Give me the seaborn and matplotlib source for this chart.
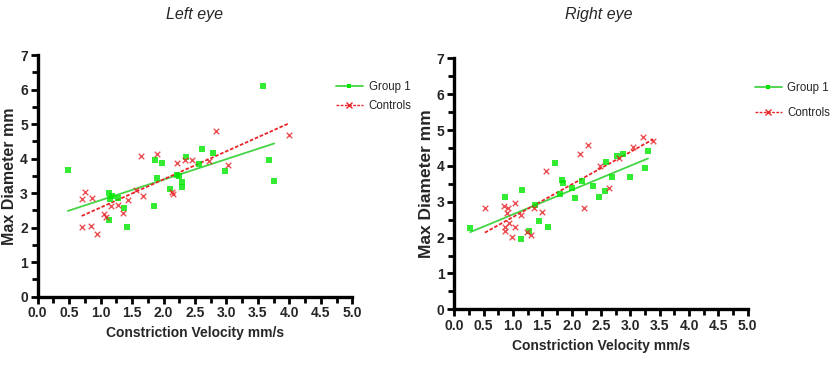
import matplotlib
matplotlib.use("Agg")
import matplotlib.pyplot as plt
from matplotlib.lines import Line2D
from matplotlib.ticker import MultipleLocator
import seaborn as sns
import pandas as pd

# ---------------- data ----------------
left_g1_x = [0.48, 3.58, 1.14, 1.18, 1.15, 1.27, 1.38, 1.14, 1.42, 1.85, 1.87, 1.89, 1.97,
             2.11, 2.21, 2.25, 2.29, 2.29, 2.35, 2.56, 2.61, 2.79, 2.97, 3.68, 3.76]
left_g1_y = [3.68, 6.10, 3.01, 2.92, 2.82, 2.86, 2.58, 2.21, 2.03, 2.62, 3.96, 3.44, 3.88,
             3.12, 3.53, 3.49, 3.33, 3.18, 4.06, 3.84, 4.27, 4.16, 3.63, 3.96, 3.36]
left_ct_x = [0.70, 0.71, 0.76, 0.84, 0.86, 0.94, 1.05, 1.08, 1.16, 1.27, 1.36, 1.43, 1.56,
             1.64, 1.68, 1.90, 2.13, 2.15, 2.22, 2.34, 2.46, 2.72, 2.83, 3.03, 3.99]
left_ct_y = [2.03, 2.84, 3.02, 2.05, 2.85, 1.81, 2.40, 2.32, 2.64, 2.66, 2.43, 2.81, 3.08,
             4.08, 2.93, 4.13, 3.03, 2.98, 3.86, 3.96, 3.95, 3.92, 4.79, 3.82, 4.69]

right_g1_x = [0.27, 0.87, 1.16, 1.13, 1.27, 1.37, 1.45, 1.60, 1.71, 1.80, 1.83, 1.85, 2.00,
              2.06, 2.18, 2.36, 2.47, 2.57, 2.59, 2.69, 2.78, 2.87, 2.99, 3.25, 3.30]
right_g1_y = [2.26, 3.14, 3.34, 1.97, 2.18, 2.91, 2.46, 2.30, 4.09, 3.22, 3.60, 3.53, 3.38,
              3.10, 3.58, 3.45, 3.12, 3.30, 4.10, 3.70, 4.28, 4.34, 3.69, 3.95, 4.41]
right_ct_x = [0.52, 0.85, 0.91, 0.89, 1.04, 0.94, 0.87, 0.86, 1.03, 0.98, 1.14, 1.23, 1.30,
              1.35, 1.50, 1.56, 2.14, 2.21, 2.28, 2.48, 2.64, 2.80, 3.05, 3.21, 3.39]
right_ct_y = [2.83, 2.89, 2.82, 2.69, 2.96, 2.42, 2.30, 2.18, 2.30, 2.01, 2.62, 2.15, 2.08,
              2.83, 2.70, 3.87, 4.33, 2.82, 4.59, 4.00, 3.39, 4.21, 4.54, 4.80, 4.70]

panel_titles = ["Left eye", "Right eye"]
series_names = ["Group 1", "Controls"]
x_ticks = [0.0, 0.5, 1.0, 1.5, 2.0, 2.5, 3.0, 3.5, 4.0, 4.5, 5.0]
y_ticks = [0, 1, 2, 3, 4, 5, 6, 7]
xlabel = "Constriction Velocity mm/s"
ylabel = "Max Diameter mm"

# ---------------- style ----------------
sns.set_theme(style="white")
plt.rcParams["font.family"] = ["Liberation Sans", "DejaVu Sans"]

GREEN_PT = "#00e600"
GREEN_LN = "#44d444"
RED = "#e8262a"

fig = plt.figure(figsize=(8.35, 3.65), dpi=100)
ax_l = fig.add_axes([0.0451, 0.1871, 0.3768, 0.6622])
ax_r = fig.add_axes([0.5441, 0.1526, 0.3514, 0.6877])

panels = [
    (ax_l, left_g1_x, left_g1_y, left_ct_x, left_ct_y, 11.5),
    (ax_r, right_g1_x, right_g1_y, right_ct_x, right_ct_y, 12.5),
]

for ax, gx, gy, cx, cy, ylab_fs in panels:
    dg = pd.DataFrame({"x": gx, "y": gy})
    dc = pd.DataFrame({"x": cx, "y": cy})
    sns.regplot(data=dg, x="x", y="y", ax=ax, ci=None, marker="s", truncate=True,
                scatter_kws=dict(color=GREEN_PT, s=14, linewidths=0, zorder=3),
                line_kws=dict(color=GREEN_LN, lw=1.3, zorder=2))
    sns.regplot(data=dc, x="x", y="y", ax=ax, ci=None, marker="x", truncate=True,
                scatter_kws=dict(color=RED, s=16, linewidths=1.0, zorder=3),
                line_kws=dict(color=RED, lw=1.3, ls=(0, (2, 1)), zorder=2))
    ax.set_xlim(0, 5)
    ax.set_ylim(0, 7)
    ax.set_xticks(x_ticks)
    ax.set_xticklabels([f"{t:.1f}" for t in x_ticks])
    ax.set_yticks(y_ticks)
    ax.set_yticklabels([str(t) for t in y_ticks])
    ax.xaxis.set_minor_locator(MultipleLocator(0.25))
    ax.yaxis.set_minor_locator(MultipleLocator(0.5))
    for s in ["top", "right"]:
        ax.spines[s].set_visible(False)
    for s in ["left", "bottom"]:
        ax.spines[s].set_linewidth(2.4)
        ax.spines[s].set_color("black")
    ax.tick_params(which="major", direction="out", length=5, width=2.0, color="black",
                   labelsize=10, pad=2, bottom=True, left=True)
    ax.tick_params(which="minor", direction="out", length=4, width=2.0, color="black",
                   bottom=True, left=True)
    for lab in ax.get_xticklabels() + ax.get_yticklabels():
        lab.set_fontweight("bold")
    ax.set_xlabel(xlabel, fontsize=10, fontweight="bold", labelpad=4)
    ax.set_ylabel(ylabel, fontsize=ylab_fs, fontweight="bold", labelpad=2)
    ax.grid(False)

fig.text(195 / 835, 1 - 15 / 365, panel_titles[0], fontsize=11.5, style="italic",
         ha="center", va="center")
fig.text(599 / 835, 1 - 15 / 365, panel_titles[1], fontsize=11.5, style="italic",
         ha="center", va="center")

handles = [
    Line2D([], [], color=GREEN_LN, lw=1.3, marker="s", markersize=3.5,
           markerfacecolor=GREEN_PT, markeredgewidth=0),
    Line2D([], [], color=RED, lw=1.0, ls=(0, (2, 1)), marker="x", markersize=4,
           markeredgewidth=1.0),
]
fig.legend(handles, series_names, loc="upper left", bbox_to_anchor=(336 / 835, 1 - 81 / 365),
           frameon=False, fontsize=8.3, handlelength=2.3, handletextpad=0.55,
           labelspacing=0.62, borderaxespad=0, borderpad=0)
fig.legend(handles, series_names, loc="upper left", bbox_to_anchor=(755 / 835, 1 - 82 / 365),
           frameon=False, fontsize=8.3, handlelength=2.3, handletextpad=0.5,
           labelspacing=1.15, borderaxespad=0, borderpad=0)

fig.savefig("out.png", dpi=100)
